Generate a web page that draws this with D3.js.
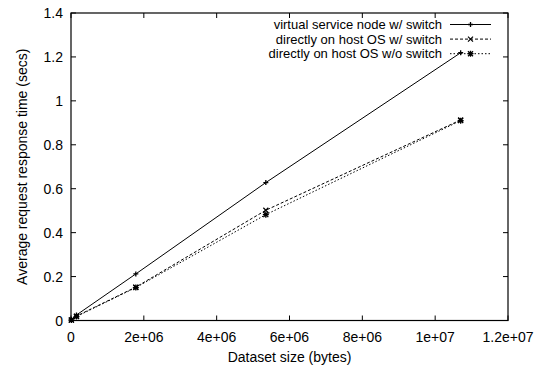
<!DOCTYPE html>
<html><head><meta charset="utf-8">
<script src="https://cdn.jsdelivr.net/npm/d3@7"></script>
<style>body{margin:0;background:#fff}text{font-family:"Liberation Sans",Arial,sans-serif;fill:#000}</style>
</head><body><svg id="c" width="542" height="366"></svg>
<script>
const sizes = [10000, 150000, 1780000, 5350000, 10700000];
const seriesNames = ["virtual service node w/ switch","directly on host OS w/ switch","directly on host OS w/o switch"];
const virtualSwitch = [0.003, 0.025, 0.212, 0.628, 1.219];
const hostSwitch = [0.002, 0.02, 0.152, 0.502, 0.913];
const hostNoSwitch = [0.002, 0.018, 0.150, 0.482, 0.910];
const xTicks = [0, 2e6, 4e6, 6e6, 8e6, 1e7, 1.2e7];
const xTickLabels = ["0","2e+06","4e+06","6e+06","8e+06","1e+07","1.2e+07"];
const yTicks = [0,0.2,0.4,0.6,0.8,1,1.2,1.4];
const yTickLabels = ["0","0.2","0.4","0.6","0.8","1","1.2","1.4"];

const L=71,R=508,T=13,B=320.5,FS=14;
const svg=d3.select("#c");
const x=d3.scaleLinear().domain([0,1.2e7]).range([L,R]);
const y=d3.scaleLinear().domain([0,1.4]).range([B,T]);

const g=svg.append("g");
xTicks.forEach((t,i)=>{
  g.append("line").attr("x1",x(t)).attr("x2",x(t)).attr("y1",B).attr("y2",B-5).attr("stroke","#000");
  g.append("line").attr("x1",x(t)).attr("x2",x(t)).attr("y1",T).attr("y2",T+5).attr("stroke","#000");
  g.append("text").attr("x",x(t)).attr("y",B+21).attr("text-anchor","middle").attr("font-size",FS).text(xTickLabels[i]);
});
yTicks.forEach((t,i)=>{
  g.append("line").attr("x1",L).attr("x2",L+5).attr("y1",y(t)).attr("y2",y(t)).attr("stroke","#000");
  g.append("line").attr("x1",R).attr("x2",R-5).attr("y1",y(t)).attr("y2",y(t)).attr("stroke","#000");
  g.append("text").attr("x",L-8).attr("y",y(t)+5).attr("text-anchor","end").attr("font-size",FS).text(yTickLabels[i]);
});
svg.append("rect").attr("x",L).attr("y",T).attr("width",R-L).attr("height",B-T).attr("fill","none").attr("stroke","#000").attr("stroke-width",1.2);

svg.append("text").attr("x",(L+R)/2).attr("y",362).attr("text-anchor","middle").attr("font-size",FS).text("Dataset size (bytes)");
svg.append("text").attr("transform",`translate(27,${(T+B)/2}) rotate(-90)`).attr("text-anchor","middle").attr("font-size",FS).text("Average request response time (secs)");

const data=[virtualSwitch,hostSwitch,hostNoSwitch];
const dashes=[null,"3,2","1.5,2"];
const line=d3.line().x((d,i)=>x(sizes[i])).y(d=>y(d));
function marker(sel,k,cx,cy){
  if(k===0){
    sel.append("path").attr("d",`M${cx-2.5},${cy}H${cx+2.5}M${cx},${cy-2.5}V${cy+2.5}`).attr("stroke","#000").attr("stroke-width",1.3);
  } else if(k===1){
    sel.append("path").attr("d",`M${cx-2.5},${cy-2.5}L${cx+2.5},${cy+2.5}M${cx-2.5},${cy+2.5}L${cx+2.5},${cy-2.5}`).attr("stroke","#000").attr("stroke-width",1.2);
  } else {
    sel.append("path").attr("d",`M${cx-3},${cy}H${cx+3}M${cx},${cy-3}V${cy+3}M${cx-2.5},${cy-2.5}L${cx+2.5},${cy+2.5}M${cx-2.5},${cy+2.5}L${cx+2.5},${cy-2.5}`).attr("stroke","#000").attr("stroke-width",1.3);
  }
}
data.forEach((s,k)=>{
  const p=svg.append("path").datum(s).attr("d",line).attr("fill","none").attr("stroke","#000").attr("stroke-width",1);
  if(dashes[k]) p.attr("stroke-dasharray",dashes[k]);
  s.forEach((v,i)=>marker(svg,k,x(sizes[i]),y(v)));
  const ly=24.5+k*14.6;
  svg.append("text").attr("x",442).attr("y",ly+4.5).attr("text-anchor","end").attr("font-size",13).text(seriesNames[k]);
  const ll=svg.append("line").attr("x1",450).attr("x2",491).attr("y1",ly).attr("y2",ly).attr("stroke","#000");
  if(dashes[k]) ll.attr("stroke-dasharray",dashes[k]);
  marker(svg,k,470.5,ly);
});
</script></body></html>
